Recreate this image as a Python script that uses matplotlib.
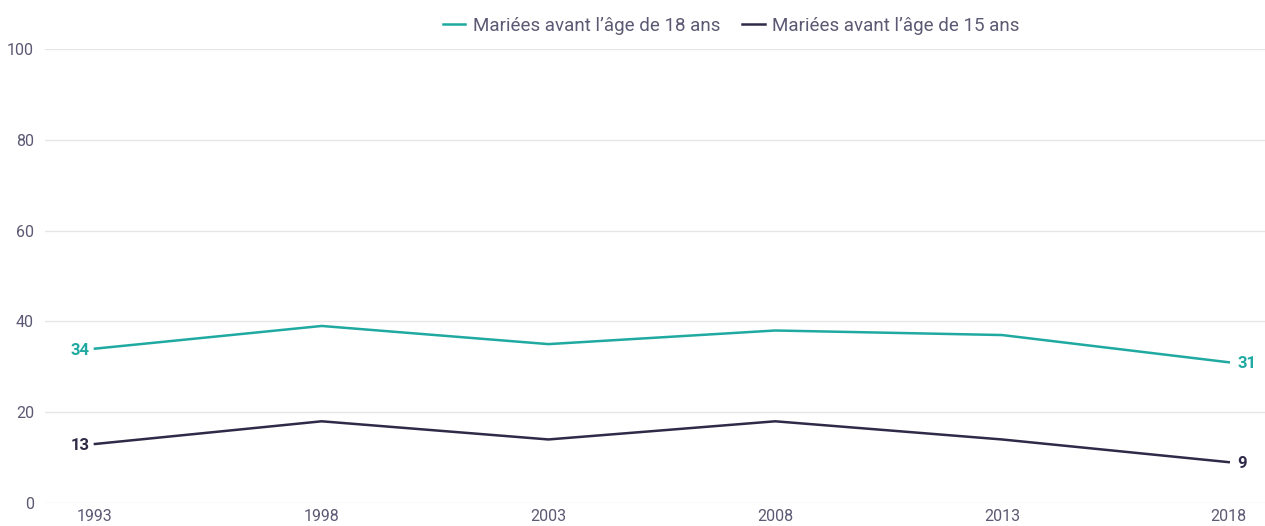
import matplotlib
matplotlib.use("Agg")
import matplotlib.pyplot as plt

# Data
years = [1993, 1998, 2003, 2008, 2013, 2018]
married_18 = [34, 39, 35, 38, 37, 31]
married_15 = [13, 18, 14, 18, 14, 9]
labels = ["Mariées avant l’âge de 18 ans", "Mariées avant l’âge de 15 ans"]
y_ticks = [0, 20, 40, 60, 80, 100]

teal = "#1fa9a1"
dark = "#2e2a47"
text_col = "#5b5973"

plt.rcParams["font.family"] = ["Roboto", "DejaVu Sans"]

fig = plt.figure(figsize=(12.65, 5.26), dpi=100)
ax = fig.add_axes([0.0356, 0.0437, 0.9644, 0.8631])

ax.plot(years, married_18, color=teal, lw=1.8, label=labels[0])
ax.plot(years, married_15, color=dark, lw=1.8, label=labels[1])

# end labels
for series, col in [(married_18, teal), (married_15, dark)]:
    ax.annotate(str(series[0]), (years[0], series[0]), xytext=(-4, -1),
                textcoords="offset points", ha="right", va="center",
                color=col, fontsize=12, fontweight="bold")
    ax.annotate(str(series[-1]), (years[-1], series[-1]), xytext=(6, -1),
                textcoords="offset points", ha="left", va="center",
                color=col, fontsize=12, fontweight="bold")

ax.set_xlim(1991.9, 2018.8)
ax.set_ylim(0, 100)
ax.set_xticks(years)
ax.set_yticks(y_ticks)
ax.tick_params(length=0, colors=text_col, labelsize=11.5)
ax.tick_params(axis="y", pad=8)
ax.tick_params(axis="x", pad=4)
ax.grid(axis="y", color="#e6e6e9", lw=1)
ax.set_axisbelow(True)
for s in ax.spines.values():
    s.set_visible(False)

leg = fig.legend(loc="upper center", bbox_to_anchor=(0.578, 1.0), ncol=2,
                 frameon=False, fontsize=13.5, handlelength=1.2,
                 handletextpad=0.4, columnspacing=1.2)
for t in leg.get_texts():
    t.set_color(text_col)

fig.savefig("out.png", dpi=100)
